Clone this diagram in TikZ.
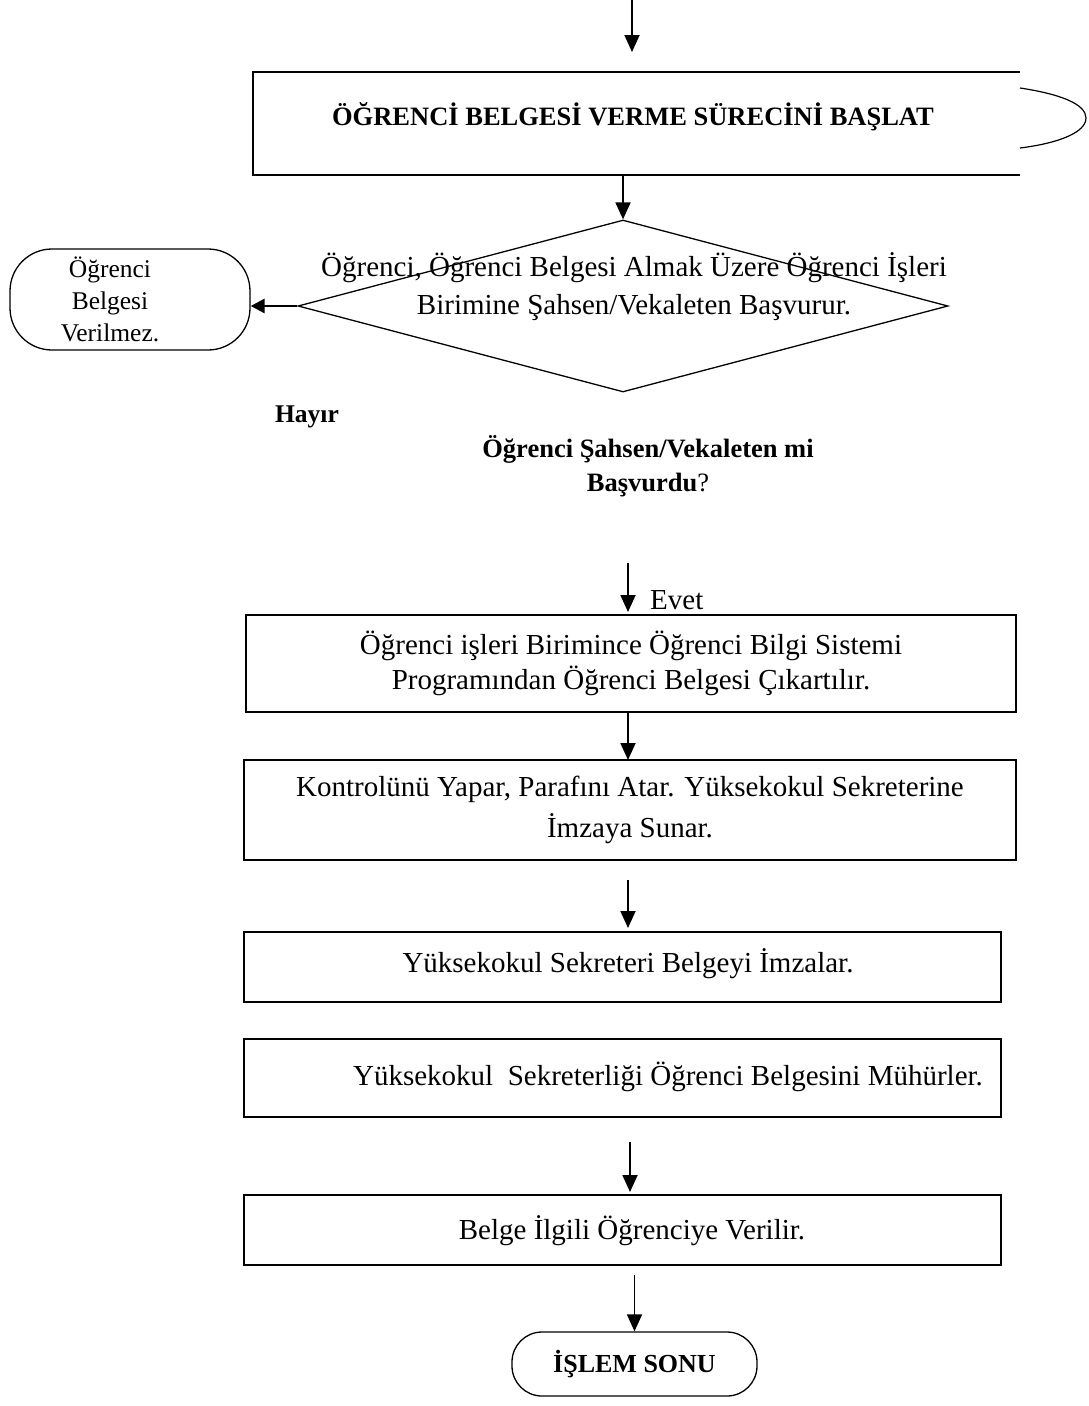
\documentclass[tikz,border=0pt]{standalone}
\usepackage{fontspec}
\setmainfont{Liberation Serif}
\usetikzlibrary{arrows.meta,shapes.geometric}
\begin{document}
\begin{tikzpicture}[x=1pt,y=-1pt,
  every node/.style={font=\fontsize{29}{37}\selectfont},
  procbox/.style={draw,line width=1.7pt,inner sep=0pt,align=center},
  plain/.style={inner sep=0pt,align=center},
  term/.style={draw,line width=1.3pt,rounded corners=#1,inner sep=0pt},
  flow/.style={line width=1.8pt,-{Triangle[width=15pt,length=17pt]}}]
\useasboundingbox (0,0) rectangle (1088,1406);

% start box: open on the right, closed by a curved cap
\node[plain,minimum width=767pt,minimum height=103pt] (start) at (636.5,123.5) {};
\draw[line width=1.7pt] (1020,72) -- (253,72) -- (253,175) -- (1020,175);
\node[plain,font=\fontsize{26.5}{30}\bfseries] (starttxt) at (633,117) {ÖĞRENCİ BELGESİ VERME SÜRECİNİ BAŞLAT};
\draw[line width=1.2pt] (1020,88) .. controls (1060,94) and (1086,104) .. (1086,118)
      .. controls (1086,132) and (1060,143) .. (1020,148);

% decision
\node[draw,shape=diamond,line width=1.3pt,minimum width=650pt,minimum height=172pt,inner sep=0pt] (dia) at (623,306) {};
\node[plain,font=\fontsize{29}{38}\selectfont] (diatxt) at (634,287) {Öğrenci, Öğrenci Belgesi Almak Üzere Öğrenci İşleri\\Birimine Şahsen/Vekaleten Başvurur.};

% negative outcome
\node[term=42pt,minimum width=240pt,minimum height=101pt] (no) at (130,299.5) {};
\node[plain,font=\fontsize{25.5}{32}\selectfont] (notxt) at (110,299) {Öğrenci\\Belgesi\\Verilmez.};

\node[plain,font=\fontsize{25.5}{30}\bfseries] (hayir) at (307,417) {Hayır};
\node[plain,font=\fontsize{26.5}{34}\selectfont] (question) at (648,466)
  {\textbf{Öğrenci Şahsen/Vekaleten mi}\\\textbf{Başvurdu}?};
\node[plain,anchor=west] (evet) at (650,600) {Evet};

% process steps
\node[procbox,minimum width=770pt,minimum height=97pt,font=\fontsize{29}{35}\selectfont] (s1) at (631,663.5)
  {Öğrenci işleri Birimince Öğrenci Bilgi Sistemi\\Programından Öğrenci Belgesi Çıkartılır.};
\node[procbox,minimum width=772pt,minimum height=100pt,font=\fontsize{29}{41}\selectfont] (s2) at (630,810)
  {Kontrolünü Yapar, Parafını Atar. Yüksekokul Sekreterine\\İmzaya Sunar.};
\node[procbox,minimum width=757pt,minimum height=70pt] (s3) at (622.5,967) {};
\node[plain] (s3txt) at (628,964) {Yüksekokul Sekreteri Belgeyi İmzalar.};
\node[procbox,minimum width=757pt,minimum height=78pt] (s4) at (622.5,1078) {};
\node[plain] (s4txt) at (668,1077) {Yüksekokul\ \ Sekreterliği Öğrenci Belgesini Mühürler.};
\node[procbox,minimum width=757pt,minimum height=70pt] (s5) at (622.5,1230) {};
\node[plain] (s5txt) at (632,1231) {Belge İlgili Öğrenciye Verilir.};

% end
\node[term=30pt,minimum width=245pt,minimum height=64pt,font=\fontsize{26}{30}\bfseries] (end) at (634.5,1364) {İŞLEM SONU};

% connectors
\coordinate (in) at (632,0);
\coordinate (ea) at (628,563);
\coordinate (fa) at (628,880);
\coordinate (fb) at (628,928);
\coordinate (ga) at (630,1142);
\coordinate (gb) at (630,1192);
\coordinate (ha) at (634.5,1275);

\draw[flow] (in) -- (632,52);
\draw[flow] (dia.north |- start.south) -- (dia.north);
\draw[line width=2.8pt,-{Triangle[width=14pt,length=14pt]}] (dia.west) -- (dia.west -| no.east);
\draw[flow] (ea) -- (628,612);
\draw[flow] (628,712) -- (628,760);
\draw[flow] (fa) -- (fb);
\draw[flow] (ga) -- (gb);
\draw[flow] (ha) -- (end.north);
\end{tikzpicture}
\end{document}
